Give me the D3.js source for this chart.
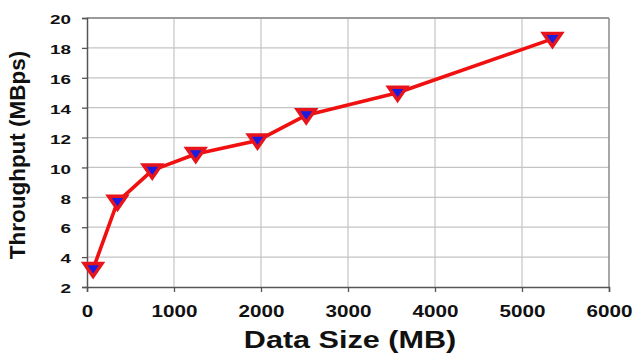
<!DOCTYPE html>
<html>
<head>
<meta charset="utf-8">
<script src="https://cdn.jsdelivr.net/npm/d3@7"></script>
<style>
  body { margin: 0; background: #fff; }
  svg { display: block; font-family: "Liberation Sans", Arial, sans-serif; font-weight: bold; }
</style>
</head>
<body>
<div id="chart"></div>
<script>
// data
const dataSize = [70, 350, 750, 1250, 1960, 2520, 3570, 5350];
const throughput = [3.2, 7.7, 9.8, 10.9, 11.8, 13.5, 15.0, 18.6];
const xTicks = [0, 1000, 2000, 3000, 4000, 5000, 6000];
const yTicks = [2, 4, 6, 8, 10, 12, 14, 16, 18, 20];

const width = 638;
const height = 356;
const margin = { top: 18, right: 29, bottom: 69, left: 87 };
const plotW = width - margin.left - margin.right;
const plotH = height - margin.top - margin.bottom;

const data = dataSize.map((d, i) => ({ x: d, y: throughput[i] }));

const svg = d3.select("#chart")
  .append("svg")
  .attr("width", width)
  .attr("height", height);

const g = svg.append("g")
  .attr("transform", `translate(${margin.left},${margin.top})`);

const x = d3.scaleLinear().domain([0, 6000]).range([0, plotW]);
const y = d3.scaleLinear().domain([2, 20]).range([plotH, 0]);

// grid
g.append("g")
  .selectAll("line")
  .data(xTicks.slice(1, -1))
  .enter().append("line")
  .attr("x1", d => x(d)).attr("x2", d => x(d))
  .attr("y1", 0).attr("y2", plotH)
  .attr("stroke", "#c4c4c4")
  .attr("stroke-width", 1.2);

g.append("g")
  .selectAll("line")
  .data(yTicks.slice(1, -1))
  .enter().append("line")
  .attr("x1", 0).attr("x2", plotW)
  .attr("y1", d => y(d)).attr("y2", d => y(d))
  .attr("stroke", "#c4c4c4")
  .attr("stroke-width", 1.2);

// top + right border
g.append("line")
  .attr("x1", 0).attr("x2", plotW).attr("y1", 0).attr("y2", 0)
  .attr("stroke", "#9a9a9a").attr("stroke-width", 2);
g.append("line")
  .attr("x1", plotW).attr("x2", plotW).attr("y1", 0).attr("y2", plotH)
  .attr("stroke", "#8a8a8a").attr("stroke-width", 1.5);

// axes
const xAxis = g.append("g")
  .attr("transform", `translate(0,${plotH})`)
  .call(d3.axisBottom(x).tickValues(xTicks).tickSize(5).tickFormat(d3.format("d")));

const yAxis = g.append("g")
  .call(d3.axisLeft(y).tickValues(yTicks).tickSize(5).tickFormat(d3.format("d")));

[xAxis, yAxis].forEach(a => {
  a.select(".domain").attr("stroke", "#555").attr("stroke-width", 1.5);
  a.selectAll(".tick line").attr("stroke", "#555").attr("stroke-width", 1.3);
});

xAxis.selectAll(".tick text")
  .attr("y", 0).attr("dy", 0)
  .attr("transform", "translate(0,30) scale(1.25,1)")
  .attr("font-size", "16.5px")
  .attr("fill", "#111");

yAxis.selectAll(".tick text")
  .attr("x", 0).attr("dy", "0.36em")
  .attr("transform", "translate(-16,1) scale(1.45,1)")
  .attr("font-size", "13px")
  .attr("fill", "#111");

// line
const line = d3.line().x(d => x(d.x)).y(d => y(d.y));

g.append("path")
  .datum(data)
  .attr("d", line)
  .attr("fill", "none")
  .attr("stroke", "#f01010")
  .attr("stroke-width", 3.6)
  .attr("stroke-linejoin", "round");

// down triangle markers
g.append("g")
  .selectAll("path")
  .data(data)
  .enter().append("path")
  .attr("transform", d => `translate(${x(d.x)},${y(d.y)})`)
  .attr("d", "M-9,-5.5L9,-5.5L0,7.5Z")
  .attr("fill", "#1c1ce0")
  .attr("stroke", "#e8141c")
  .attr("stroke-width", 3.4)
  .attr("stroke-linejoin", "miter");

// axis titles
svg.append("text")
  .attr("transform", `translate(350,348) scale(1.33,1)`)
  .attr("text-anchor", "middle")
  .attr("font-size", "23px")
  .attr("fill", "#111")
  .text("Data Size (MB)");

svg.append("text")
  .attr("transform", "translate(25,155) rotate(-90)")
  .attr("text-anchor", "middle")
  .attr("font-size", "22.5px")
  .attr("fill", "#111")
  .text("Throughput (MBps)");
</script>
</body>
</html>
